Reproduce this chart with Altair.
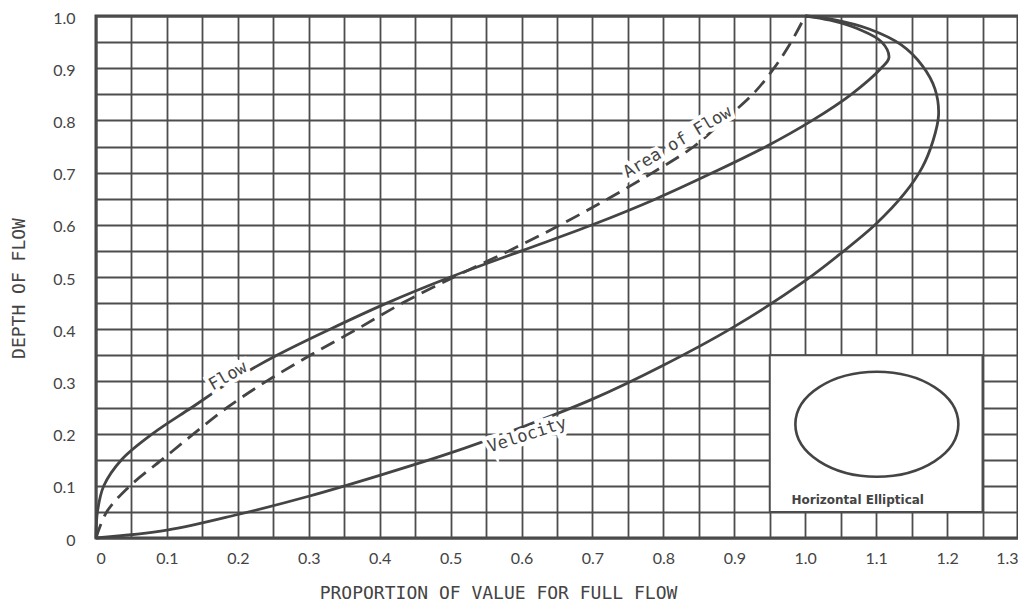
import altair as alt
import pandas as pd

# ---- data (depth y -> proportion x) ----
flow_x = [0, 0.002, 0.011, 0.036, 0.08, 0.135, 0.19, 0.255, 0.33, 0.41, 0.5, 0.6, 0.7,
          0.79, 0.87, 0.945, 1.01, 1.065, 1.107, 1.118, 1.108, 1.075, 1.035, 1.0]
flow_y = [0, 0.05, 0.1, 0.15, 0.2, 0.25, 0.3, 0.35, 0.4, 0.45, 0.5, 0.55, 0.6,
          0.65, 0.7, 0.75, 0.8, 0.85, 0.9, 0.92, 0.95, 0.975, 0.992, 1.0]

vel_x = [0, 0.1, 0.2, 0.3, 0.4, 0.5, 0.6, 0.7, 0.8, 0.9, 1.0, 1.05, 1.1, 1.14, 1.165,
         1.18, 1.188, 1.183, 1.165, 1.135, 1.09, 1.04, 1.0]
vel_y = [0, 0.015, 0.045, 0.08, 0.12, 0.163, 0.212, 0.266, 0.331, 0.405, 0.493, 0.545,
         0.602, 0.66, 0.71, 0.76, 0.81, 0.86, 0.905, 0.945, 0.975, 0.993, 1.0]

area_x = [0, 0.015, 0.048, 0.093, 0.138, 0.185, 0.24, 0.302, 0.368, 0.432, 0.505, 0.582,
          0.655, 0.722, 0.785, 0.843, 0.885, 0.926, 0.956, 0.98, 1.0]
area_y = [0, 0.05, 0.1, 0.15, 0.2, 0.25, 0.3, 0.35, 0.4, 0.45, 0.5, 0.55,
          0.6, 0.65, 0.7, 0.75, 0.8, 0.85, 0.9, 0.95, 1.0]

x_ticks = [0, 0.05, 0.1, 0.15, 0.2, 0.25, 0.3, 0.35, 0.4, 0.45, 0.5, 0.55, 0.6, 0.65,
           0.7, 0.75, 0.8, 0.85, 0.9, 0.95, 1.0, 1.05, 1.1, 1.15, 1.2, 1.25, 1.3]
y_ticks = [0, 0.05, 0.1, 0.15, 0.2, 0.25, 0.3, 0.35, 0.4, 0.45, 0.5, 0.55, 0.6, 0.65,
           0.7, 0.75, 0.8, 0.85, 0.9, 0.95, 1.0]

label_text = ["Flow", "Velocity", "Area of Flow"]
label_x = [0.186, 0.608, 0.82]
label_y = [0.31, 0.197, 0.758]
label_angle = [330, 342, 329]

inset_x = [0.95, 1.25]
inset_y = [0.05, 0.35]
ellipse_x = [1.101]
ellipse_y = [0.218]
inset_caption = ["Horizontal Elliptical"]
caption_x = [1.074]
caption_y = [0.073]

INK = "#444444"
GRID = "#4d4d4d"


def curve(xs, ys, name):
    return pd.DataFrame({"x": xs, "y": ys, "order": list(range(len(xs))), "curve": name})


label_expr = ("(round(datum.value*100) % 10 == 0) ? "
              "(datum.value == 0 ? '0' : format(datum.value, '.1f')) : ''")

xscale = alt.Scale(domain=[0, 1.3], nice=False, zero=False)
yscale = alt.Scale(domain=[0, 1.0], nice=False, zero=False)

xaxis = alt.Axis(values=x_ticks, labelExpr=label_expr, title="PROPORTION OF VALUE FOR FULL FLOW",
                 labelOverlap=False, labelFlush=True, labelPadding=12, labelFontSize=16,
                 labelFont="Lato", labelColor=INK, titleFont="DejaVu Sans Mono",
                 titleFontSize=18, titleFontWeight="normal", titleColor=INK,
                 titleX=402, titleY=55, titleBaseline="middle", titleAlign="center",
                 ticks=False, domain=False, grid=True, gridColor=GRID, gridWidth=1.8)
yaxis = alt.Axis(values=y_ticks, labelExpr=label_expr, title="DEPTH OF FLOW",
                 labelOverlap=False, labelPadding=21, labelFontSize=16, labelOffset=2,
                 labelFont="Lato", labelColor=INK, titleFont="DejaVu Sans Mono",
                 titleFontSize=18, titleFontWeight="normal", titleColor=INK,
                 titleX=-77, titleY=272, titleAngle=270, titleBaseline="middle",
                 titleAlign="center", ticks=False, domain=False, grid=True,
                 gridColor=GRID, gridWidth=1.8)


def X(field="x"):
    return alt.X(f"{field}:Q", scale=xscale, axis=xaxis)


def Y(field="y"):
    return alt.Y(f"{field}:Q", scale=yscale, axis=yaxis)


solid = pd.concat([curve(flow_x, flow_y, "Flow"), curve(vel_x, vel_y, "Velocity")])
dashed = curve(area_x, area_y, "Area of Flow")

solid_layer = alt.Chart(solid).mark_line(
    interpolate="catmull-rom", color=INK, strokeWidth=2.8
).encode(x=X(), y=Y(), order="order:Q", detail="curve:N")

dashed_layer = alt.Chart(dashed).mark_line(
    interpolate="catmull-rom", color=INK, strokeWidth=2.8, strokeDash=[15, 8]
).encode(x=X(), y=Y(), order="order:Q")

labels = pd.DataFrame({"t": label_text, "x": label_x, "y": label_y, "a": label_angle})
halo = alt.Chart(labels).mark_text(
    font="DejaVu Sans Mono", fontSize=17, color="white", stroke="white", strokeWidth=8,
    align="center", baseline="middle"
).encode(x=X(), y=Y(), text="t:N", angle=alt.Angle("a:Q", scale=None))
label_layer = alt.Chart(labels).mark_text(
    font="DejaVu Sans Mono", fontSize=17, color=INK, align="center", baseline="middle"
).encode(x=X(), y=Y(), text="t:N", angle=alt.Angle("a:Q", scale=None))

inset = pd.DataFrame({"x": [inset_x[0]], "x2": [inset_x[1]], "y": [inset_y[0]], "y2": [inset_y[1]]})
inset_layer = alt.Chart(inset).mark_rect(
    fill="white", stroke=GRID, strokeWidth=2
).encode(x=X(), x2="x2:Q", y=Y(), y2="y2:Q")

ellipse_path = ("M -1 0 C -1 -0.356 -0.552 -0.644 0 -0.644 C 0.552 -0.644 1 -0.356 1 0 "
                "C 1 0.356 0.552 0.644 0 0.644 C -0.552 0.644 -1 0.356 -1 0 Z")
ell = pd.DataFrame({"x": ellipse_x, "y": ellipse_y})
ellipse_layer = alt.Chart(ell).mark_point(
    shape=ellipse_path, size=163 * 163, filled=False, stroke=INK, strokeWidth=2.6, opacity=1
).encode(x=X(), y=Y())

cap = pd.DataFrame({"t": inset_caption, "x": caption_x, "y": caption_y})
caption_layer = alt.Chart(cap).mark_text(
    font="DejaVu Sans", fontSize=12, fontWeight="bold", color=INK,
    align="center", baseline="middle"
).encode(x=X(), y=Y(), text="t:N")

chart = alt.layer(
    inset_layer, ellipse_layer, caption_layer, dashed_layer, solid_layer, halo, label_layer
).properties(
    width=922, height=522, autosize="none",
    padding={"left": 88, "top": 8, "right": 0, "bottom": 66},
    background="white"
).configure_view(stroke=INK, strokeWidth=3)

chart.save("out.html", embed_options={"renderer": "svg", "actions": False})
